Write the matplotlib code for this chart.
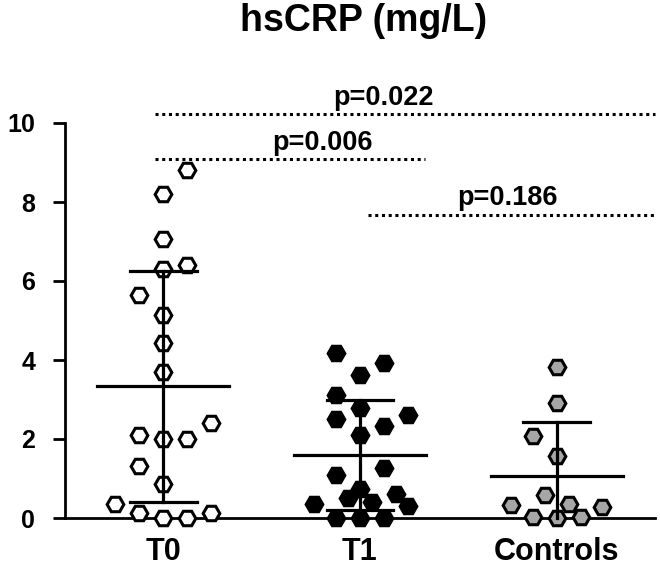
import matplotlib
matplotlib.use("Agg")
import matplotlib.pyplot as plt
import numpy as np

plt.rcParams['font.family'] = ['Liberation Sans', 'DejaVu Sans']
plt.rcParams['font.weight'] = 'bold'

categories = ["T0", "T1", "Controls"]

t0_values = [8.8, 8.2, 7.06, 6.3, 6.4, 5.65, 5.14, 4.43, 3.7, 2.4,
             2.1, 2.0, 2.0, 1.32, 0.85, 0.36, 0.12, 0.0, 0.0, 0.12]
t0_slots = [1, 0, 0, 0, 1, -1, 0, 0, 0, 2, -1, 0, 1, -1, 0, -2, -1, 0, 1, 2]

t1_values = [4.18, 3.92, 3.62, 3.11, 2.78, 2.5, 2.6, 2.33, 2.1, 1.1,
             1.26, 0.73, 0.5, 0.6, 0.4, 0.35, 0.3, 0.0, 0.0, 0.0]
t1_slots = [-1, 1, 0, -1, 0, -1, 2, 1, 0, -1, 1, 0, -0.5, 1.5, 0.5, -1.9, 2, -1, 0, 1]

ctrl_values = [3.82, 2.9, 2.08, 1.57, 0.58, 0.33, 0.35, 0.28, 0.03, 0.0, 0.03]
ctrl_slots = [0, 0, -1, 0, -0.5, -1.9, 0.5, 1.9, -1, 0, 1]

means = [3.33, 1.6, 1.06]
sds = [2.93, 1.4, 1.37]

pvalues = ["p=0.022", "p=0.006", "p=0.186"]
comparisons = [(0, 2), (0, 1), (1, 2)]
bracket_y = [10.23, 9.09, 7.67]

fills = ["white", "black", "#a6a6a6"]

fig = plt.figure(figsize=(6.6, 5.66), dpi=100)
ax = fig.add_axes([65/660, (566-518)/566, (655-65)/660, 395/566])

slot_w = 0.122
groups = [(t0_values, t0_slots), (t1_values, t1_slots), (ctrl_values, ctrl_slots)]
for i, (vals, slots) in enumerate(groups):
    xs = i + np.array(slots) * slot_w
    ax.plot(xs, vals, linestyle='none', marker='H', markersize=12,
            markerfacecolor=fills[i], markeredgecolor='black', markeredgewidth=2.2,
            clip_on=False, zorder=3)
    m, s = means[i], sds[i]
    lo = max(m - s, 0)
    hi = m + s
    ax.plot([i - 0.335, i + 0.335], [m, m], color='black', lw=2.3, zorder=4, clip_on=False)
    ax.plot([i, i], [lo, hi], color='black', lw=2.3, zorder=4, clip_on=False)
    ax.plot([i - 0.17, i + 0.17], [hi, hi], color='black', lw=2.3, zorder=4, clip_on=False)
    ax.plot([i - 0.17, i + 0.17], [m - s, m - s], color='black', lw=2.3, zorder=4, clip_on=True)

# significance lines
line_ext = {(0, 2): (-0.04, 2.5), (0, 1): (-0.04, 1.33), (1, 2): (1.04, 2.5)}
text_pos = {(0, 2): (1.12, 10.64), (0, 1): (0.81, 9.5), (1, 2): (1.75, 8.1)}
for p, comp, yb in zip(pvalues, comparisons, bracket_y):
    x0, x1 = line_ext[comp]
    ax.plot([x0, x1], [yb, yb], color='black', lw=2.2, linestyle=(0, (1, 1.2)),
            clip_on=False, zorder=2)
    tx, ty = text_pos[comp]
    ax.text(tx, ty, p, ha='center', va='center', fontsize=19.5, fontweight='bold',
            clip_on=False)

ax.set_xlim(-0.5, 2.5)
ax.set_ylim(0, 10)
ax.set_yticks([0, 2, 4, 6, 8, 10])
ax.set_xticks([0, 1, 2])
ax.set_xticklabels(categories)
for sp in ['top', 'right']:
    ax.spines[sp].set_visible(False)
for sp in ['left', 'bottom']:
    ax.spines[sp].set_linewidth(2.0)
ax.tick_params(axis='y', direction='out', length=8.5, width=2.0, pad=13, labelsize=18)
ax.tick_params(axis='x', direction='out', length=6, width=2.0, pad=8, labelsize=22)
for lab in ax.get_xticklabels() + ax.get_yticklabels():
    lab.set_fontweight('bold')

fig.text(364/660, 1 - 21/566, "hsCRP (mg/L)", ha='center', va='center',
         fontsize=27, fontweight='bold')

fig.savefig("out.png", dpi=100)
